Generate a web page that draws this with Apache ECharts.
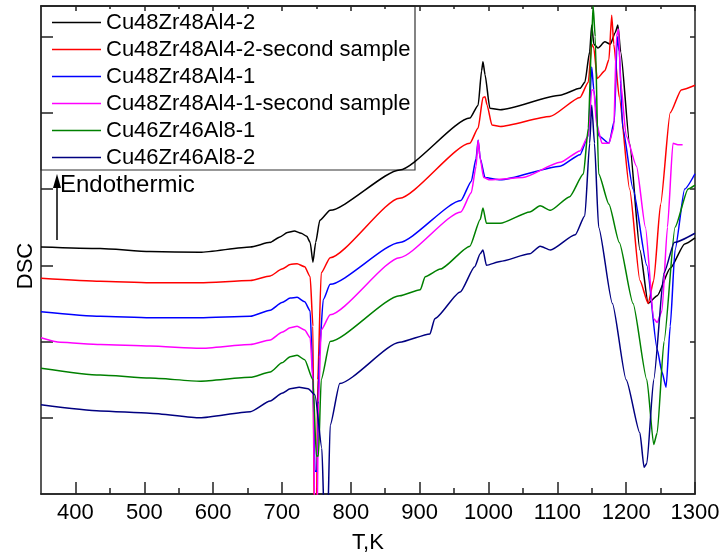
<!DOCTYPE html>
<html>
<head>
<meta charset="utf-8">
<script src="https://cdn.jsdelivr.net/npm/echarts@6/dist/echarts.min.js"></script>
<style>
  * { margin: 0; padding: 0; }
  body { background: #fff; }
  #chart { width: 726px; height: 559px; }
</style>
</head>
<body>
<div id="chart"></div>
<script>
const seriesNames = [
  "Cu48Zr48Al4-2",
  "Cu48Zr48Al4-2-second sample",
  "Cu48Zr48Al4-1",
  "Cu48Zr48Al4-1-second sample",
  "Cu46Zr46Al8-1",
  "Cu46Zr46Al8-2",
];
const seriesColors = ["#000000", "#ff0000", "#0000ff", "#ff00ff", "#008000", "#000080"];

// [T (K), DSC (arb. units)]
const black = [[350,3.24],[436,3.22],[508,3.18],[581,3.17],[654,3.24],[683,3.30],[697,3.37],[708,3.43],[718,3.45],[728,3.42],[736,3.38],[741,3.30],[745,3.04],[749,3.30],[755,3.59],[770,3.72],[871,4.25],[973,4.93],[985,5.10],[990,5.55],[992,5.67],[995,5.50],[1002,5.06],[1017,5.04],[1104,5.23],[1133,5.32],[1140,5.40],[1147,5.80],[1150,6.15],[1153,5.90],[1159,5.85],[1169,5.93],[1177,5.90],[1184,6.05],[1188,6.15],[1192,5.8],[1205,4.6],[1220,3.2],[1232,2.5],[1245,2.6],[1264,2.96],[1285,3.28],[1300,3.36]];
const red = [[350,2.83],[436,2.79],[508,2.77],[581,2.77],[654,2.80],[683,2.86],[700,2.95],[712,3.01],[722,3.02],[733,2.98],[741,2.85],[745,2.2],[747,-0.5],[750,-0.5],[752,1.5],[757,2.9],[770,3.1],[871,3.88],[973,4.6],[985,4.8],[992,5.2],[995,5.21],[998,5.1],[1005,4.84],[1017,4.82],[1089,4.95],[1133,5.2],[1145,5.4],[1150,5.9],[1153,5.85],[1158,5.45],[1169,5.55],[1175,5.7],[1179,6.28],[1182,5.9],[1190,5.2],[1205,4.0],[1220,2.8],[1232,2.5],[1240,2.8],[1250,3.8],[1264,5.0],[1280,5.3],[1300,5.36]];
const blue = [[350,2.39],[436,2.33],[508,2.31],[581,2.31],[654,2.33],[683,2.41],[700,2.51],[712,2.57],[722,2.58],[733,2.52],[741,2.4],[745,1.5],[748,0.3],[751,0.3],[754,1.8],[760,2.55],[770,2.75],[871,3.3],[960,3.85],[975,4.1],[982,4.4],[985,4.64],[988,4.4],[995,4.15],[1017,4.12],[1104,4.3],[1133,4.45],[1145,4.7],[1150,5.6],[1153,5.3],[1160,4.7],[1175,4.6],[1183,4.9],[1187,6.0],[1190,5.8],[1195,4.8],[1210,4.0],[1230,3.0],[1245,1.9],[1252,1.6],[1258,1.4],[1264,2.2],[1271,3.2],[1285,4.0],[1300,4.2]];
const magenta = [[350,2.05],[378,1.99],[436,1.96],[508,1.94],[581,1.91],[654,1.96],[683,2.02],[700,2.12],[712,2.18],[722,2.20],[733,2.15],[741,2.05],[745,1.5],[748,-0.5],[751,-0.5],[753,1.2],[757,2.15],[770,2.35],[871,3.1],[960,3.7],[975,3.95],[982,4.3],[985,4.64],[988,4.4],[993,4.15],[1002,4.12],[1050,4.15],[1104,4.35],[1133,4.5],[1145,4.7],[1150,5.3],[1153,5.3],[1157,4.85],[1165,4.6],[1175,4.6],[1182,4.8],[1186,6.0],[1189,6.1],[1192,5.4],[1200,4.7],[1215,4.3],[1228,3.5],[1240,2.3],[1245,2.25],[1252,2.4],[1260,3.5],[1268,4.6],[1275,4.58],[1282,4.58]];
const green = [[350,1.65],[436,1.56],[508,1.52],[581,1.48],[654,1.53],[683,1.60],[700,1.72],[712,1.80],[722,1.82],[733,1.76],[745,1.5],[750,0.5],[753,0.5],[757,1.5],[770,2.0],[871,2.6],[901,2.68],[908,2.85],[930,2.95],[973,3.25],[988,3.6],[992,3.75],[997,3.55],[1017,3.55],[1060,3.7],[1075,3.78],[1090,3.72],[1118,3.9],[1138,4.2],[1145,4.8],[1150,6.0],[1152,6.4],[1155,6.0],[1160,4.2],[1175,3.8],[1190,3.3],[1210,2.5],[1230,1.5],[1240,0.65],[1245,0.8],[1255,2.0],[1271,3.5],[1290,4.0],[1300,4.05]];
const navy = [[350,1.17],[436,1.09],[508,1.06],[581,1.0],[654,1.08],[683,1.22],[700,1.32],[712,1.38],[725,1.40],[738,1.38],[748,1.3],[758,0.6],[762,-0.5],[766,-0.5],[770,0.9],[784,1.45],[871,1.99],[915,2.1],[922,2.3],[959,2.65],[980,2.98],[988,3.15],[992,3.2],[997,3.0],[1017,3.05],[1060,3.15],[1075,3.25],[1090,3.2],[1126,3.4],[1140,3.65],[1147,4.6],[1150,5.1],[1154,4.6],[1160,3.5],[1180,2.5],[1200,1.5],[1220,0.8],[1226,0.35],[1230,0.4],[1240,1.5],[1255,2.9],[1270,3.3],[1300,3.42]];

const curves = [black, red, blue, magenta, green, navy];

const xMajor = [400, 500, 600, 700, 800, 900, 1000, 1100, 1200, 1300];
const xMinor = [450, 550, 650, 750, 850, 950, 1050, 1150, 1250];
const yMajor = [1, 2, 3, 4, 5, 6];

const chart = echarts.init(document.getElementById("chart"), null, { renderer: "canvas" });

const axisColor = "#222";
const font = "Liberation Sans, Arial, sans-serif";

function xAxisDef(pos, ticks, len, showLabels, extra) {
  return Object.assign({
    type: "value",
    position: pos,
    min: 350,
    max: 1300,
    axisLine: { show: true, onZero: false, lineStyle: { color: axisColor, width: 1.5 } },
    axisTick: { show: true, inside: true, length: len, customValues: ticks, lineStyle: { color: axisColor, width: 1.5 } },
    axisLabel: {
      show: showLabels,
      customValues: ticks,
      formatter: (v) => String(v),
      color: "#000",
      fontSize: 22,
      fontFamily: font,
      margin: 8,
    },
    splitLine: { show: false },
  }, extra || {});
}

const option = {
  animation: false,
  backgroundColor: "#fff",
  grid: { left: 41, right: 31, top: 6, bottom: 65 },
  xAxis: [
    xAxisDef("bottom", xMajor, 12, true, {
      name: "T,K",
      nameLocation: "middle",
      nameGap: 38,
      nameTextStyle: { color: "#000", fontSize: 22, fontFamily: font },
    }),
    xAxisDef("bottom", xMinor, 6, false),
    xAxisDef("top", xMajor, 5, false),
    xAxisDef("top", xMinor, 3, false),
  ],
  yAxis: [
    {
      type: "value",
      position: "left",
      min: 0,
      max: 6.4,
      name: "DSC",
      nameLocation: "middle",
      nameGap: 4,
      nameTextStyle: { color: "#000", fontSize: 22, fontFamily: font, padding: [0, 32, 0, 0] },
      axisLine: { show: true, lineStyle: { color: axisColor, width: 1.5 } },
      axisTick: { show: true, inside: true, length: 12, customValues: yMajor, lineStyle: { color: axisColor, width: 1.5 } },
      axisLabel: { show: false },
      splitLine: { show: false },
    },
    {
      type: "value",
      position: "right",
      min: 0,
      max: 6.4,
      axisLine: { show: true, lineStyle: { color: axisColor, width: 1.5 } },
      axisTick: { show: true, inside: true, length: 5, customValues: yMajor, lineStyle: { color: axisColor, width: 1.5 } },
      axisLabel: { show: false },
      splitLine: { show: false },
    },
  ],
  legend: {
    orient: "vertical",
    left: 52,
    top: 9,
    padding: 0,
    itemGap: 0,
    itemWidth: 49,
    itemHeight: 1.5,
    icon: "rect",
    textStyle: { color: "#000", fontSize: 22, fontFamily: font, lineHeight: 27 },
    data: seriesNames,
  },
  graphic: [
    {
      type: "rect",
      z: 0,
      shape: { x: 41, y: 6, width: 374, height: 164 },
      style: { fill: "#fff", stroke: "#333", lineWidth: 1.2 },
    },
    {
      type: "line",
      shape: { x1: 57, y1: 240, x2: 57, y2: 186 },
      style: { stroke: "#000", lineWidth: 1.5 },
    },
    {
      type: "polygon",
      shape: { points: [[57, 174], [53, 188], [61, 188]] },
      style: { fill: "#000" },
    },
    {
      type: "text",
      left: 60,
      top: 173,
      style: { text: "Endothermic", fill: "#000", fontSize: 24, fontFamily: font },
    },
  ],
  series: curves.map((d, i) => ({
    name: seriesNames[i],
    type: "line",
    data: d,
    symbol: "none",
    smooth: 0.2,
    smoothMonotone: "x",
    clip: true,
    color: seriesColors[i],
    lineStyle: { color: seriesColors[i], width: 1.5 },
  })),
};

chart.setOption(option);
</script>
</body>
</html>
